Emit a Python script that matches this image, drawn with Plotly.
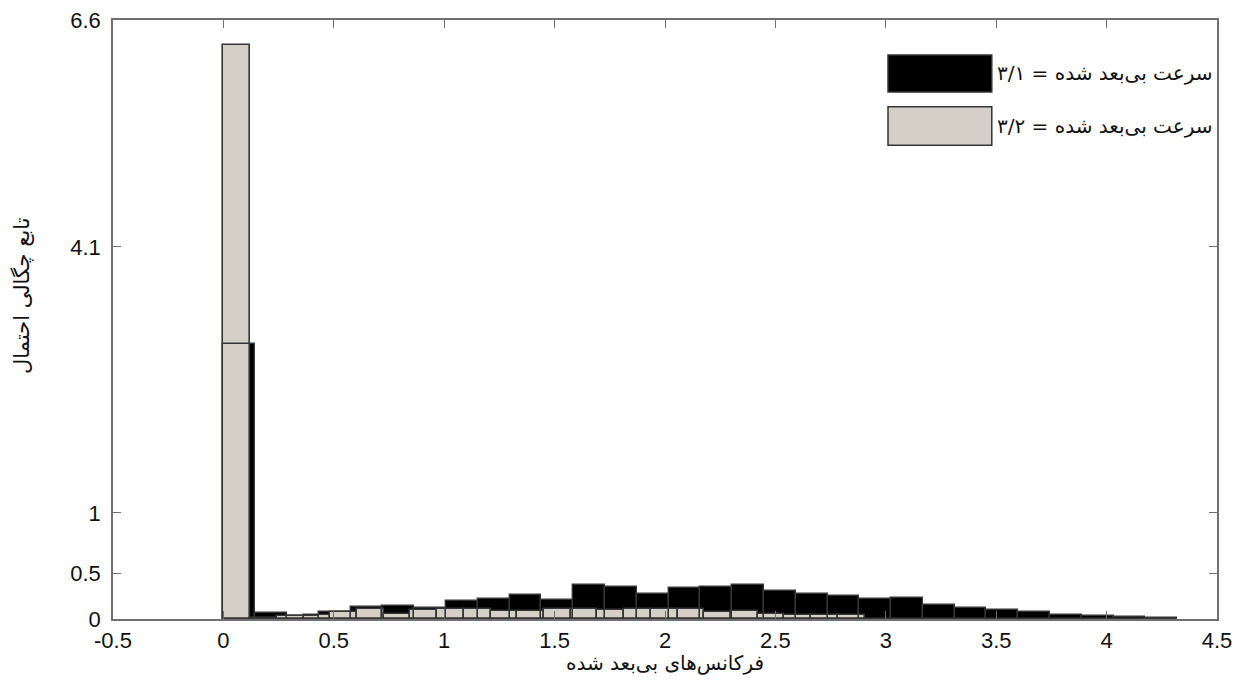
import plotly.graph_objects as go

# ---- data ----
# dimensionless speed = 3/1  (black), bin width ~0.144
black_x = [0.072, 0.216, 0.360, 0.504, 0.648, 0.792, 0.936, 1.080, 1.224, 1.368,
           1.512, 1.656, 1.800, 1.944, 2.088, 2.232, 2.376, 2.520, 2.664, 2.808,
           2.952, 3.096, 3.240, 3.384, 3.528, 3.672, 3.816, 3.960, 4.104, 4.248]
black_y = [3.03, 0.07, 0.03, 0.08, 0.13, 0.14, 0.12, 0.20, 0.22, 0.27,
           0.21, 0.375, 0.35, 0.275, 0.34, 0.355, 0.375, 0.31, 0.28, 0.25,
           0.22, 0.23, 0.155, 0.12, 0.095, 0.08, 0.045, 0.035, 0.02, 0.01]
black_w = 0.144

# dimensionless speed = 3/2  (gray), bin width ~0.121
gray_x = [0.0605, 0.1815, 0.3025, 0.4235, 0.5445, 0.6655, 0.7865, 0.9075,
          1.0285, 1.1495, 1.2705, 1.3915, 1.5125, 1.6335, 1.7545, 1.8755,
          1.9965, 2.1175, 2.2385, 2.3595, 2.4805, 2.6015, 2.7225, 2.8435]
gray_y = [6.32, 0.01, 0.033, 0.044, 0.08, 0.107, 0.05, 0.10,
          0.11, 0.11, 0.085, 0.085, 0.11, 0.11, 0.10, 0.105,
          0.105, 0.105, 0.074, 0.09, 0.055, 0.044, 0.044, 0.045]
gray_w = 0.121

x_ticks = [-0.5, 0, 0.5, 1, 1.5, 2, 2.5, 3, 3.5, 4, 4.5]
x_tick_text = ["-0.5", "0", "0.5", "1", "1.5", "2", "2.5", "3", "3.5", "4", "4.5"]
y_ticks = [0, 0.5, 1.17, 4.1, 6.6]
y_tick_text = ["0", "0.5", "1", "4.1", "6.6"]

legend_black = "سرعت بی‌بعد شده = ۳/۱"
legend_gray = "سرعت بی‌بعد شده = ۳/۲"
x_title = "فرکانس‌های بی‌بعد شده"
y_title = "تابع چگالی احتمال"

BLACK = "#000000"
GRAY = "#d4d0c8"
EDGE = "#353535"
AXIS = "#707070"
FA = "DejaVu Sans, Noto Sans, sans-serif"
FN = "Liberation Sans, Arial, sans-serif"

fig = go.Figure()
fig.add_trace(go.Bar(x=black_x, y=black_y, width=black_w, name=legend_black,
                     marker=dict(color=BLACK, line=dict(color=BLACK, width=1)),
                     showlegend=False))
fig.add_trace(go.Bar(x=gray_x, y=gray_y, width=gray_w, name=legend_gray,
                     marker=dict(color=GRAY, line=dict(color=EDGE, width=1.6)),
                     showlegend=False))
# outline of the black bins drawn over the gray bars
fig.add_trace(go.Bar(x=black_x, y=black_y, width=black_w, hoverinfo="skip",
                     marker=dict(color="rgba(0,0,0,0)", line=dict(color=EDGE, width=1.4)),
                     showlegend=False))

fig.update_layout(
    width=1246, height=686,
    margin=dict(l=105, r=37, t=12, b=75),
    paper_bgcolor="white", plot_bgcolor="white",
    barmode="overlay", bargap=0,
    font=dict(family=FN, size=22, color="#111111"),
)
fig.update_xaxes(range=[-0.5, 4.5], tickmode="array", tickvals=x_ticks, ticktext=x_tick_text,
                 ticks="inside", ticklen=8, tickcolor=AXIS, tickwidth=1.2,
                 showline=True, linecolor=AXIS, linewidth=1.5, mirror="ticks",
                 showgrid=False, zeroline=False, ticklabelstandoff=1, automargin=False,
                 ticklabeloverflow="allow")
fig.update_yaxes(range=[0, 6.6], tickmode="array", tickvals=y_ticks, ticktext=y_tick_text,
                 ticks="inside", ticklen=8, tickcolor=AXIS, tickwidth=1.2,
                 showline=True, linecolor=AXIS, linewidth=1.5, mirror="ticks",
                 showgrid=False, zeroline=False, ticklabelstandoff=6, automargin=False,
                 ticklabeloverflow="allow")

# legend drawn by hand (large swatches as in the reference)
fig.add_shape(type="rect", xref="paper", yref="paper", x0=0.702, x1=0.796, y0=0.880, y1=0.9416,
              fillcolor=BLACK, line=dict(color=EDGE, width=1.5))
fig.add_shape(type="rect", xref="paper", yref="paper", x0=0.702, x1=0.796, y0=0.791, y1=0.855,
              fillcolor=GRAY, line=dict(color=EDGE, width=1.5))
fig.add_annotation(xref="paper", yref="paper", x=0.997, y=0.9115, xanchor="right", yanchor="middle",
                   text=legend_black, showarrow=False, font=dict(family=FA, size=20, color="#111111"))
fig.add_annotation(xref="paper", yref="paper", x=0.997, y=0.823, xanchor="right", yanchor="middle",
                   text=legend_gray, showarrow=False, font=dict(family=FA, size=20, color="#111111"))

# axis titles
fig.add_annotation(xref="paper", yref="paper", x=0.5, y=-0.073, xanchor="center", yanchor="middle",
                   text=x_title, showarrow=False, font=dict(family=FA, size=20, color="#111111"))
fig.add_annotation(xref="paper", yref="paper", x=-0.083, y=0.54, xanchor="center", yanchor="middle",
                   text=y_title, textangle=-90, showarrow=False,
                   font=dict(family=FA, size=21, color="#111111"))

fig.write_html("out.html")
